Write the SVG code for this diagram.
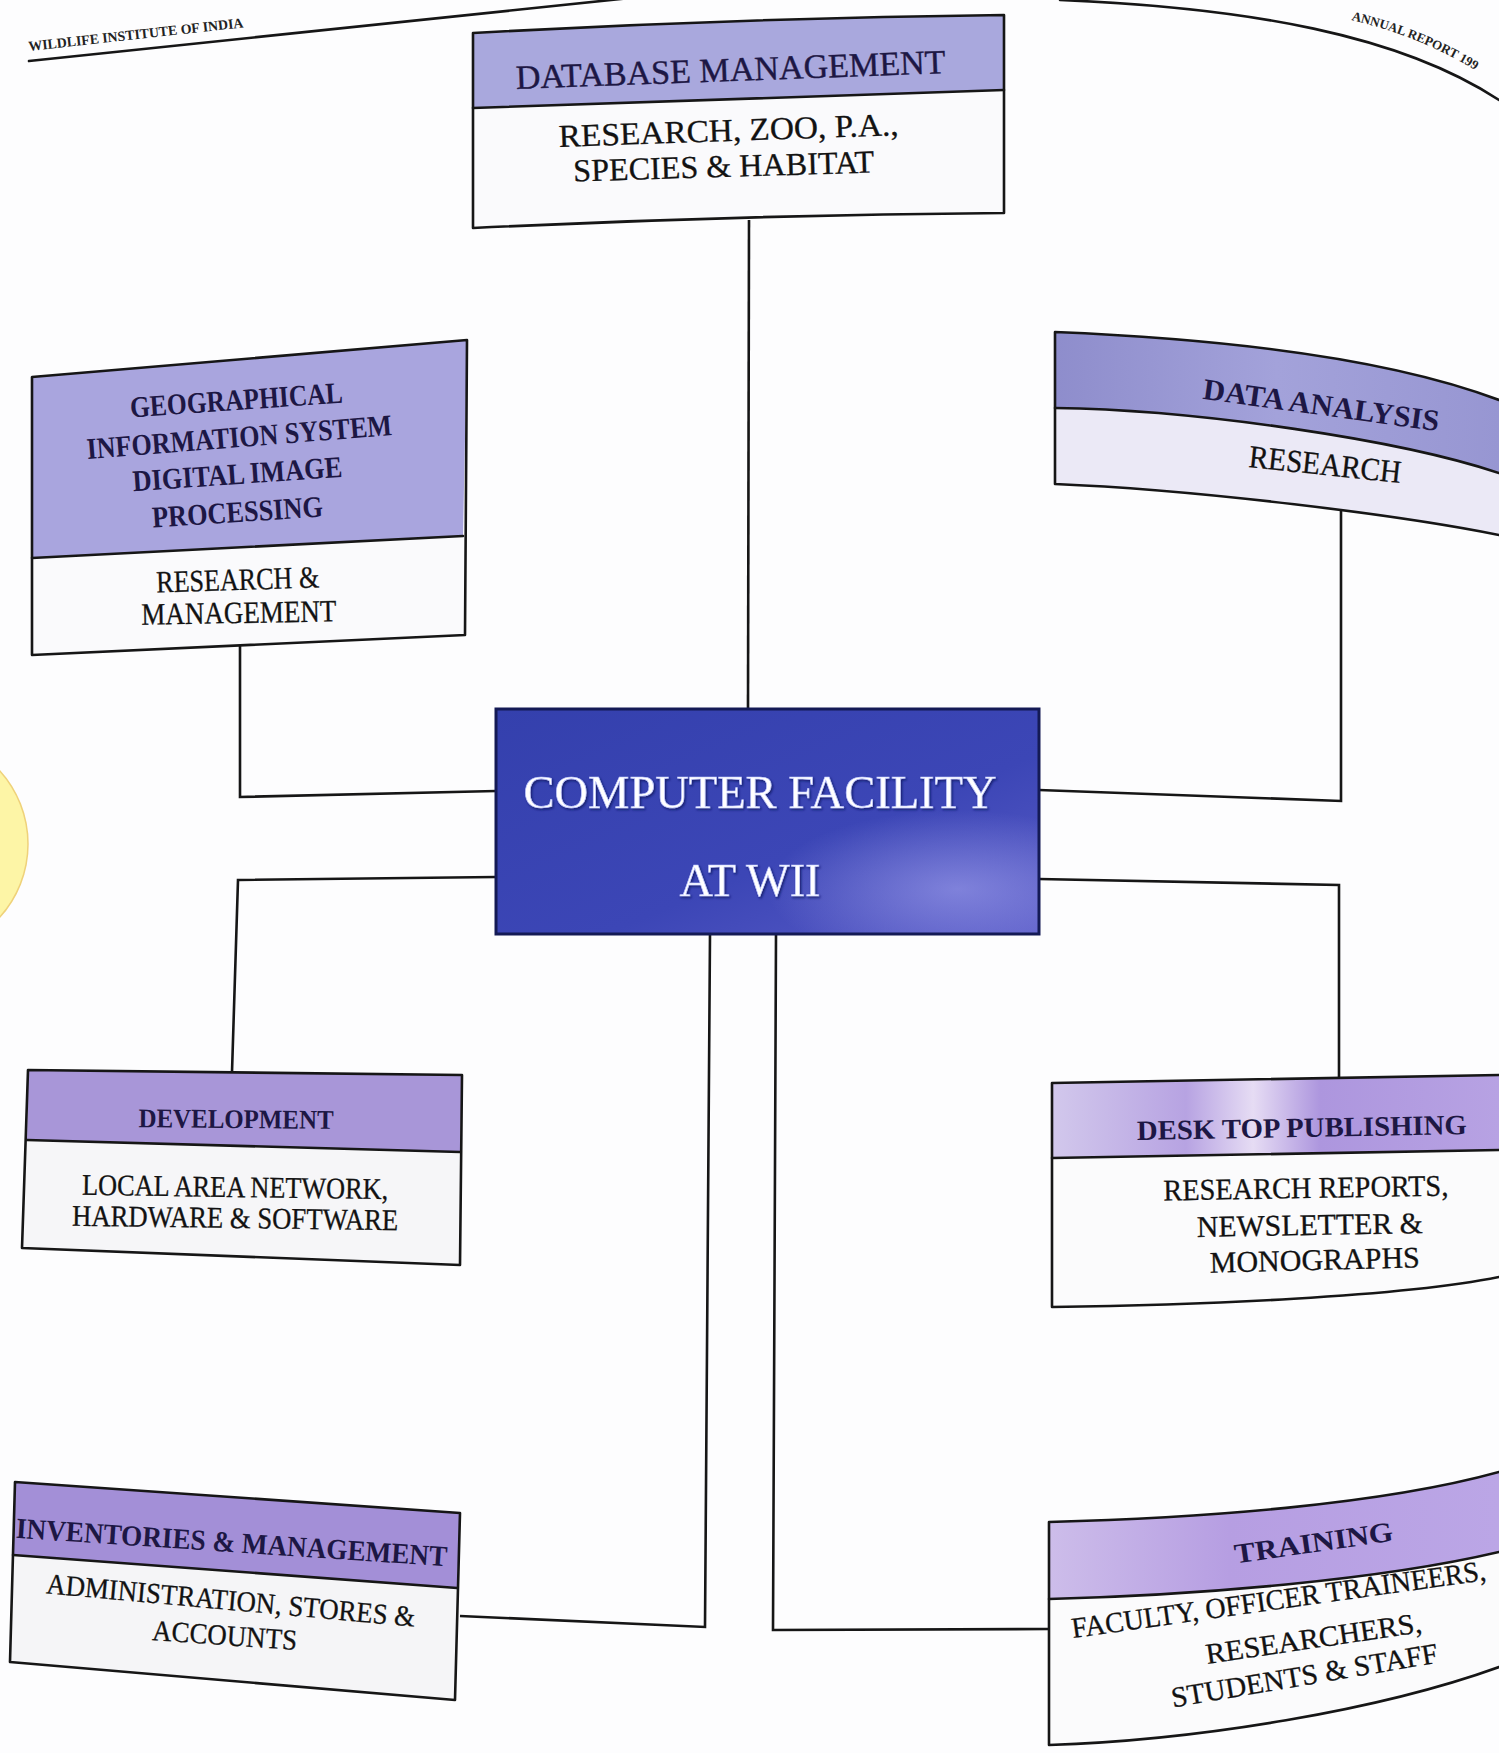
<svg xmlns="http://www.w3.org/2000/svg" width="1499" height="1753" viewBox="0 0 1499 1753">
<style>
.edge{stroke:#161616;stroke-width:2.6;fill:none;stroke-linejoin:round;stroke-linecap:round}
.conn{stroke:#161616;stroke-width:2.6;fill:none;stroke-linejoin:miter}
.hd{font-family:"Liberation Serif","Times New Roman",serif;fill:#1d1744;text-anchor:middle}
.bd{font-family:"Liberation Serif","Times New Roman",serif;fill:#121212;text-anchor:middle;stroke:#121212;stroke-width:0.3}
.b{font-weight:bold}
.cf{font-family:"Liberation Serif","Times New Roman",serif;fill:#ffffff;text-anchor:middle;stroke:#b9c2ff;stroke-width:0.6}
.pg{font-family:"Liberation Serif","Times New Roman",serif;fill:#222;font-weight:bold}
</style>
<defs>
<linearGradient id="gCenter" x1="0" y1="0" x2="1" y2="1">
<stop offset="0" stop-color="#3440ad"/>
<stop offset="0.6" stop-color="#3c46b6"/>
<stop offset="1" stop-color="#5a5cc8"/>
</linearGradient>
<radialGradient id="gSheen" cx="0.85" cy="0.8" r="0.35">
<stop offset="0" stop-color="#a8a8f0" stop-opacity="0.55"/>
<stop offset="1" stop-color="#a8a8f0" stop-opacity="0"/>
</radialGradient>
<linearGradient id="gDA" x1="0" y1="0" x2="1" y2="0">
<stop offset="0" stop-color="#8e8dcc"/>
<stop offset="0.5" stop-color="#a3a2da"/>
<stop offset="1" stop-color="#9796d2"/>
</linearGradient>
<linearGradient id="gDTP" x1="0" y1="0" x2="1" y2="0">
<stop offset="0" stop-color="#d2c8ec"/>
<stop offset="0.3" stop-color="#b7a3e2"/>
<stop offset="0.45" stop-color="#e6dcf4"/>
<stop offset="0.6" stop-color="#ad96de"/>
<stop offset="1" stop-color="#b7a2e3"/>
</linearGradient>
<linearGradient id="gTR" x1="0" y1="0" x2="1" y2="0">
<stop offset="0" stop-color="#cdbdea"/>
<stop offset="0.4" stop-color="#b69ee2"/>
<stop offset="1" stop-color="#bba6e6"/>
</linearGradient>
<filter id="glow" x="-10%" y="-30%" width="120%" height="160%">
<feDropShadow dx="1.2" dy="1.5" stdDeviation="1.2" flood-color="#0d1460" flood-opacity="0.9"/>
</filter>
</defs>

<rect x="0" y="0" width="1499" height="1753" fill="#fdfdfe"/>

<!-- page decorations -->
<g id="page-header">
<path d="M29,61 Q330,30 630,-2" class="edge"/>
<path d="M1060,0 C1250,8 1400,35 1499,100" class="edge"/>
<text class="pg" font-size="14" textLength="216" lengthAdjust="spacingAndGlyphs" transform="translate(29,51) rotate(-6.3)">WILDLIFE INSTITUTE OF INDIA</text>
<path id="arPath" d="M1300,11 C1370,20 1440,42 1508,92" fill="none"/>
<text class="pg" font-size="13"><textPath href="#arPath" startOffset="52">ANNUAL REPORT 199</textPath></text>
<circle cx="-81" cy="844" r="109" fill="#fdf5a6" stroke="#efd27a" stroke-width="1.5"/>
</g>

<!-- connectors -->
<g id="connectors">
<path class="conn" d="M749,220 L748,709"/>
<path class="conn" d="M240,646 L240,797 L496,791"/>
<path class="conn" d="M496,877 L238,880 L232,1072"/>
<path class="conn" d="M1039,790 L1341,801 L1341,508"/>
<path class="conn" d="M1039,879 L1339,885 L1339,1081"/>
<path class="conn" d="M710,934 L705,1627 L460,1616"/>
<path class="conn" d="M776,934 L773,1630 L1049,1629"/>
</g>

<!-- Database management -->
<g id="node-database">
<path d="M473,33 Q740,18 1004,15 L1004,90 L473,108 Z" fill="#a9a8dd"/>
<path d="M473,108 L1004,90 L1004,213 Q740,215 473,228 Z" fill="#fafafc"/>
<path class="edge" d="M473,33 Q740,18 1004,15 L1004,213 Q740,215 473,228 Z"/>
<path class="edge" d="M473,108 L1004,90"/>
<text class="hd" font-size="34" textLength="430" lengthAdjust="spacingAndGlyphs" transform="translate(731,81) rotate(-2.1)" stroke="#1d1744" stroke-width="0.4">DATABASE MANAGEMENT</text>
<text class="bd" font-size="32" textLength="340" lengthAdjust="spacingAndGlyphs" transform="translate(729,141) rotate(-2)">RESEARCH, ZOO, P.A.,</text>
<text class="bd" font-size="32" textLength="301" lengthAdjust="spacingAndGlyphs" transform="translate(724,177) rotate(-1.7)">SPECIES &amp; HABITAT</text>
</g>

<!-- GIS -->
<g id="node-gis">
<path d="M32,377 L467,340 L463,536 L32,558 Z" fill="#a9a5de"/>
<path d="M32,558 L463,536 L465,635 L32,655 Z" fill="#fafafc"/>
<path class="edge" d="M32,377 L467,340 L465,635 L32,655 Z"/>
<path class="edge" d="M32,558 L463,536"/>
<text class="hd b" font-size="30" textLength="213" lengthAdjust="spacingAndGlyphs" transform="translate(237,410) rotate(-4)">GEOGRAPHICAL</text>
<text class="hd b" font-size="30" textLength="306" lengthAdjust="spacingAndGlyphs" transform="translate(240,447) rotate(-4.5)">INFORMATION SYSTEM</text>
<text class="hd b" font-size="30" textLength="210" lengthAdjust="spacingAndGlyphs" transform="translate(238,484) rotate(-4)">DIGITAL IMAGE</text>
<text class="hd b" font-size="30" textLength="171" lengthAdjust="spacingAndGlyphs" transform="translate(238,522) rotate(-3.7)">PROCESSING</text>
<text class="bd" font-size="31" textLength="163" lengthAdjust="spacingAndGlyphs" transform="translate(238,590) rotate(-1.8)">RESEARCH &amp;</text>
<text class="bd" font-size="31" textLength="195" lengthAdjust="spacingAndGlyphs" transform="translate(239,623) rotate(-1)">MANAGEMENT</text>
</g>

<!-- Data analysis -->
<g id="node-data-analysis">
<path d="M1055,332 C1200,338 1380,355 1499,400 L1499,473 C1400,440 1200,410 1055,408 Z" fill="url(#gDA)"/>
<path d="M1055,408 C1200,410 1400,440 1499,473 L1499,535 C1400,515 1200,490 1055,484 Z" fill="#ebe9f6"/>
<path class="edge" d="M1499,400 C1380,355 1200,338 1055,332 L1055,484 C1200,490 1400,515 1499,535"/>
<path class="edge" d="M1055,408 C1200,410 1400,440 1499,473"/>
<text class="hd b" font-size="30" textLength="238" lengthAdjust="spacingAndGlyphs" transform="translate(1320,415) rotate(7.8)">DATA ANALYSIS</text>
<text class="bd" font-size="32" textLength="153" lengthAdjust="spacingAndGlyphs" transform="translate(1324,475) rotate(6)">RESEARCH</text>
</g>

<!-- Center -->
<g id="node-center">
<rect x="496" y="709" width="543" height="225" fill="url(#gCenter)"/>
<rect x="496" y="709" width="543" height="225" fill="url(#gSheen)"/>
<rect x="496" y="709" width="543" height="225" fill="none" stroke="#141a55" stroke-width="3"/>
<text class="cf" font-size="46" textLength="473" lengthAdjust="spacingAndGlyphs" x="760" y="808" filter="url(#glow)">COMPUTER FACILITY</text>
<text class="cf" font-size="46" textLength="141" lengthAdjust="spacingAndGlyphs" x="750" y="896" filter="url(#glow)">AT WII</text>
</g>

<!-- Development -->
<g id="node-development">
<path d="M28,1070 L462,1075 L460,1152 L27,1140 Z" fill="#a896d8"/>
<path d="M27,1140 L460,1152 L460,1265 L22,1248 Z" fill="#f6f6f8"/>
<path class="edge" d="M28,1070 L462,1075 L460,1265 L22,1248 Z"/>
<path class="edge" d="M27,1140 L460,1152"/>
<text class="hd b" font-size="27" textLength="195" lengthAdjust="spacingAndGlyphs" transform="translate(236,1128) rotate(0.5)">DEVELOPMENT</text>
<text class="bd" font-size="30" textLength="306" lengthAdjust="spacingAndGlyphs" transform="translate(235,1197) rotate(0.8)">LOCAL AREA NETWORK,</text>
<text class="bd" font-size="30" textLength="326" lengthAdjust="spacingAndGlyphs" transform="translate(235,1228) rotate(0.8)">HARDWARE &amp; SOFTWARE</text>
</g>

<!-- Desk top publishing -->
<g id="node-dtp">
<path d="M1052,1083 L1499,1075 L1499,1150 L1052,1158 Z" fill="url(#gDTP)"/>
<path d="M1052,1158 L1499,1150 L1499,1277 C1400,1297 1200,1305 1052,1307 Z" fill="#fbfbfc"/>
<path class="edge" d="M1499,1075 L1052,1083 L1052,1307 C1200,1305 1400,1297 1499,1277"/>
<path class="edge" d="M1052,1158 L1499,1150"/>
<text class="hd b" font-size="28" textLength="330" lengthAdjust="spacingAndGlyphs" transform="translate(1302,1137) rotate(-1)">DESK TOP PUBLISHING</text>
<text class="bd" font-size="30" textLength="285" lengthAdjust="spacingAndGlyphs" transform="translate(1306,1198) rotate(-1)">RESEARCH REPORTS,</text>
<text class="bd" font-size="30" textLength="226" lengthAdjust="spacingAndGlyphs" transform="translate(1310,1235) rotate(-1)">NEWSLETTER &amp;</text>
<text class="bd" font-size="30" textLength="210" lengthAdjust="spacingAndGlyphs" transform="translate(1315,1270) rotate(-1.5)">MONOGRAPHS</text>
</g>

<!-- Inventories -->
<g id="node-inventories">
<path d="M15,1482 L460,1513 L457,1588 L13,1555 Z" fill="#a38fd7"/>
<path d="M13,1555 L457,1588 L455,1700 L10,1662 Z" fill="#f5f5f7"/>
<path class="edge" d="M15,1482 L460,1513 L455,1700 L10,1662 Z"/>
<path class="edge" d="M13,1555 L457,1588"/>
<text class="hd b" font-size="29" textLength="432" lengthAdjust="spacingAndGlyphs" transform="translate(231,1552) rotate(3.8)">INVENTORIES &amp; MANAGEMENT</text>
<text class="bd" font-size="29" textLength="370" lengthAdjust="spacingAndGlyphs" transform="translate(230,1610) rotate(5.2)">ADMINISTRATION, STORES &amp;</text>
<text class="bd" font-size="29" textLength="145" lengthAdjust="spacingAndGlyphs" transform="translate(224,1645) rotate(4)">ACCOUNTS</text>
</g>

<!-- Training -->
<g id="node-training">
<path d="M1049,1522 C1200,1518 1380,1505 1499,1472 L1499,1552 C1380,1580 1200,1595 1049,1599 Z" fill="url(#gTR)"/>
<path d="M1049,1599 C1200,1595 1380,1580 1499,1552 L1499,1667 C1380,1710 1200,1740 1049,1745 Z" fill="#fbfbfc"/>
<path class="edge" d="M1499,1472 C1380,1505 1200,1518 1049,1522 L1049,1745 C1200,1740 1380,1710 1499,1667"/>
<path class="edge" d="M1049,1599 C1200,1595 1380,1580 1499,1552"/>
<text class="hd b" font-size="28" textLength="160" lengthAdjust="spacingAndGlyphs" transform="translate(1315,1552) rotate(-8.2)">TRAINING</text>
<text class="bd" font-size="29" textLength="418" lengthAdjust="spacingAndGlyphs" transform="translate(1280,1609) rotate(-8)">FACULTY, OFFICER TRAINEERS,</text>
<text class="bd" font-size="29" textLength="218" lengthAdjust="spacingAndGlyphs" transform="translate(1315,1648) rotate(-8.4)">RESEARCHERS,</text>
<text class="bd" font-size="29" textLength="270" lengthAdjust="spacingAndGlyphs" transform="translate(1306,1685) rotate(-9.6)">STUDENTS &amp; STAFF</text>
</g>
</svg>
